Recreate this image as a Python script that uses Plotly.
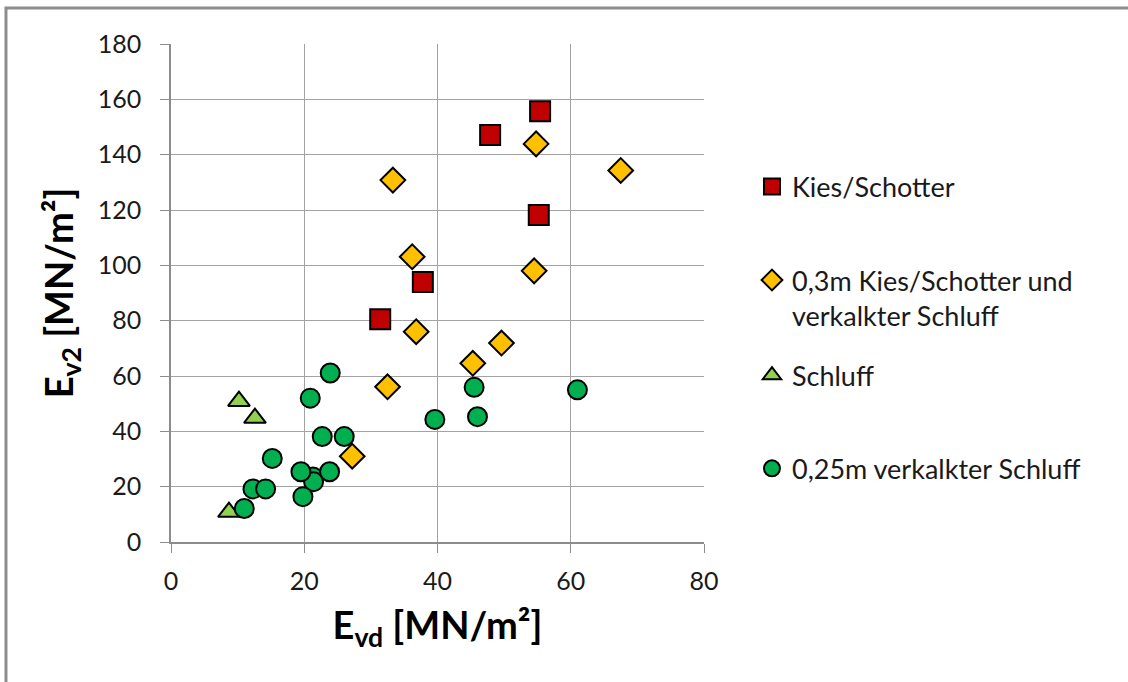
import plotly.graph_objects as go

# Series: E_vd (x) vs E_v2 (y), both in MN/m²
kies_x = [55.4, 47.9, 55.2, 37.8, 31.4]
kies_y = [155.7, 147.1, 118.2, 94.0, 80.5]

mix_x = [54.8, 67.5, 33.3, 36.2, 54.5, 36.8, 49.6, 45.3, 32.5, 27.2]
mix_y = [143.9, 134.3, 130.8, 103.1, 98.0, 76.0, 71.9, 64.6, 56.1, 31.0]

schluff_x = [10.2, 12.6, 8.7]
schluff_y = [50.9, 44.8, 10.8]

kalk_x = [21.3, 21.4, 19.5, 23.8, 19.8, 23.9, 20.9, 22.7, 26.0, 15.2,
          12.3, 14.2, 11.0, 39.6, 45.5, 46.0, 61.0]
kalk_y = [23.5, 21.8, 25.4, 25.4, 16.4, 61.1, 52.0, 38.1, 38.1, 30.2,
          19.2, 19.2, 12.1, 44.3, 55.9, 45.3, 55.0]

names = [
    "Kies/Schotter",
    "0,3m Kies/Schotter und<br>verkalkter Schluff",
    "Schluff",
    "0,25m verkalkter Schluff",
]

x_ticks = [0, 20, 40, 60, 80]
y_ticks = [0, 20, 40, 60, 80, 100, 120, 140, 160, 180]

FONT = "Lato, 'Open Sans', sans-serif"
GRID = "#a3a3a3"

fig = go.Figure()

series = [
    (kies_x, kies_y, "square", "#C00000", 20, "legend"),
    (mix_x, mix_y, "diamond", "#FFC000", 19, "legend2"),
    (schluff_x, schluff_y, "triangle-up", "#92D050", 19, "legend3"),
    (kalk_x, kalk_y, "circle", "#00B050", 19, "legend4"),
]
for (xs, ys, sym, col, size, leg), name in zip(series, names):
    fig.add_trace(go.Scatter(
        x=xs, y=ys, mode="markers", name=name, legend=leg, showlegend=True,
        marker=dict(symbol=sym, color=col, size=size,
                    line=dict(color="black", width=2)),
    ))

legend_common = dict(
    x=1.09, xanchor="left", yanchor="middle", bgcolor="rgba(0,0,0,0)",
    font=dict(family=FONT, size=27, color="#1a1a1a"),
    itemsizing="trace", valign="top",
)

fig.update_layout(
    width=1128, height=682,
    margin=dict(l=171, r=424, t=44, b=140),
    paper_bgcolor="white", plot_bgcolor="white",
    font=dict(family=FONT, size=24, color="#1a1a1a"),
    showlegend=True,
    legend=dict(y=0.713, **legend_common),
    legend2=dict(y=0.490, **legend_common),
    legend3=dict(y=0.334, **legend_common),
    legend4=dict(y=0.147, **legend_common),
    xaxis=dict(
        range=[0, 80], tickvals=x_ticks, ticktext=[str(v) for v in x_ticks],
        showgrid=True, gridcolor=GRID, gridwidth=1.3,
        showline=True, linecolor="#8c8c8c", linewidth=1.5,
        ticks="outside", ticklen=9, tickcolor="#8c8c8c", tickwidth=1.3,
        ticklabelstandoff=7, zeroline=False,
        tickfont=dict(family=FONT, size=25, color="#1a1a1a"),
        title=dict(text="<b>E<sub>vd</sub> [MN/m²]</b>", standoff=19,
                   font=dict(family=FONT, size=38, color="black")),
    ),
    yaxis=dict(
        range=[0, 180], tickvals=y_ticks, ticktext=[str(v) for v in y_ticks],
        showgrid=True, gridcolor=GRID, gridwidth=1.3,
        showline=True, linecolor="#8c8c8c", linewidth=1.5,
        ticks="outside", ticklen=9, tickcolor="#8c8c8c", tickwidth=1.3,
        ticklabelstandoff=14, zeroline=False,
        tickfont=dict(family=FONT, size=25, color="#1a1a1a"),
        title=dict(text="<b>E<sub>v2</sub> [MN/m²]</b>", standoff=12,
                   font=dict(family=FONT, size=38, color="black")),
    ),
    shapes=[dict(
        type="rect", xref="paper", yref="paper",
        x0=-0.3096, x1=1.85, y0=-0.35, y1=1.0723,
        line=dict(color="#8d8d8d", width=3), layer="below",
    )],
)

fig.write_html("out.html")
